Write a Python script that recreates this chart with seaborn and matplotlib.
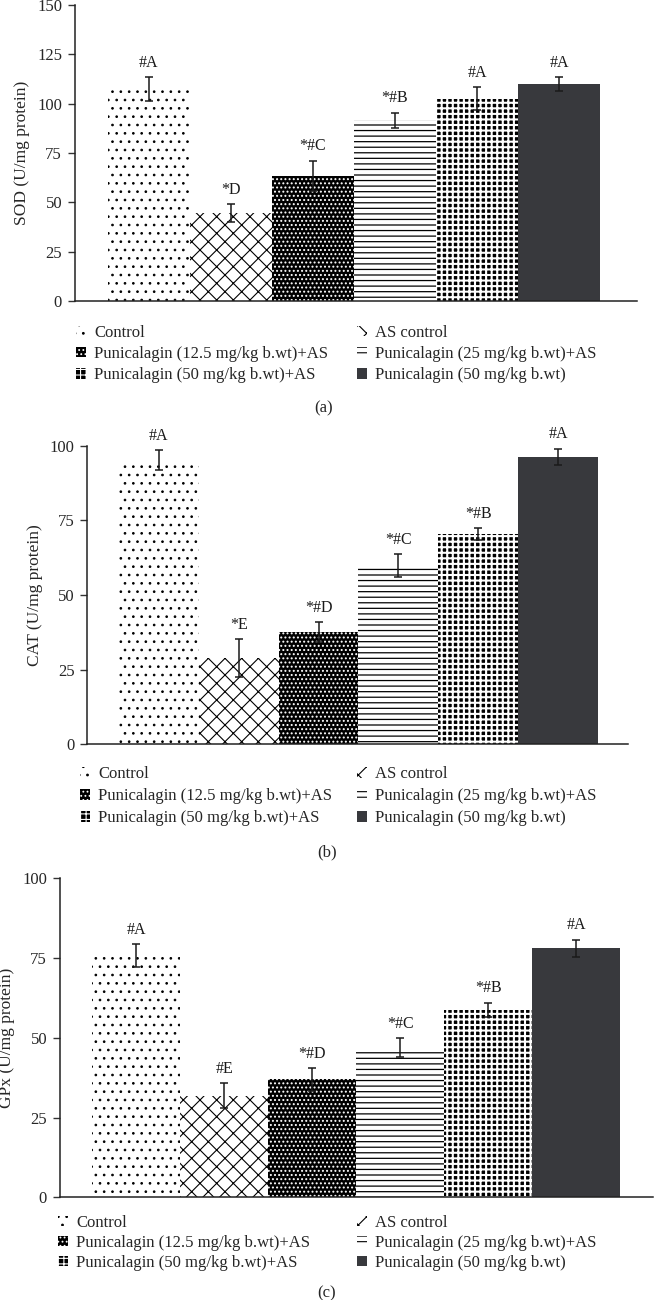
import numpy as np
import pandas as pd
import seaborn as sns
import matplotlib
matplotlib.use("Agg")
import matplotlib.pyplot as plt

# ---------------- data ----------------
groups = ["Control", "AS control",
          "Punicalagin (12.5 mg/kg b.wt)+AS", "Punicalagin (25 mg/kg b.wt)+AS",
          "Punicalagin (50 mg/kg b.wt)+AS", "Punicalagin (50 mg/kg b.wt)"]

sod_values = [107.4, 44.5, 63.5, 91.6, 102.5, 109.8]
sod_errors = [6.0, 4.6, 7.6, 3.8, 5.7, 3.5]
sod_labels = ["#A", "*D", "*#C", "*#B", "#A", "#A"]

cat_values = [95.2, 28.9, 37.5, 59.9, 70.3, 96.2]
cat_errors = [3.3, 6.2, 3.3, 3.8, 2.0, 2.8]
cat_labels = ["#A", "*E", "*#D", "*#C", "*#B", "#A"]

gpx_values = [75.8, 31.9, 37.0, 46.9, 58.7, 78.0]
gpx_errors = [3.5, 4.0, 3.6, 3.0, 2.3, 2.8]
gpx_labels = ["#A", "#E", "*#D", "*#C", "*#B", "#A"]

panel_tags = ["(a)", "(b)", "(c)"]

# ---------------- style ----------------
sns.set_style("white")
plt.rcParams["font.family"] = ["Liberation Serif", "DejaVu Serif"]
plt.rcParams["hatch.linewidth"] = 0.8

W, H = 654, 1300
fig = plt.figure(figsize=(W / 100, H / 100), dpi=100)

faces = ["white", "white", "black", "white", "black", "#38393d"]
hatch_cols = ["black", "black", "white", "black", "white", "#38393d"]
hatches = ["..", "xx", "....", "---", "+++", ""]
hatch_lw = [0.7, 0.8, 0.9, 0.9, 1.5, 0.5]


def px_axes(left, right, top, bottom):
    return [left / W, 1 - bottom / H, (right - left) / W, (bottom - top) / H]


def panel(rect, values, errors, labels, ylabel, ymax, xlim):
    ax = fig.add_axes(rect)
    df = pd.DataFrame({"group": groups, "value": values})
    sns.barplot(data=df, x="group", y="value", hue="group", order=groups,
                hue_order=groups, palette=dict(zip(groups, faces)),
                width=1.0, errorbar=None, legend=False, saturation=1,
                linewidth=0, ax=ax)
    bars = sorted(ax.patches, key=lambda p: p.get_x())
    for p, fc, hc, h, lw in zip(bars, faces, hatch_cols, hatches, hatch_lw):
        p.set_facecolor(fc)
        p.set_edgecolor(hc)
        p.set_linewidth(0)
        if h:
            p.set_hatch(h)
        if hasattr(p, "set_hatch_linewidth"):
            p.set_hatch_linewidth(lw)
    xs = np.arange(len(values))
    ax.errorbar(xs, values, yerr=errors, fmt="none", ecolor="#1a1a1a",
                elinewidth=1.1, capsize=3.2, capthick=1.1, zorder=5)
    for x, v, e, t in zip(xs, values, errors, labels):
        ax.annotate(t, (x, v + e), xytext=(0, 4.5), textcoords="offset points",
                    ha="center", va="bottom", fontsize=11.5, color="#1a1a1a")
    ax.set_xlim(*xlim)
    ax.set_ylim(0, ymax)
    ax.set_yticks(np.arange(0, ymax + 1, 25))
    ax.set_xticks([])
    ax.set_xlabel("")
    ax.set_ylabel(ylabel, fontsize=12.5, labelpad=5)
    ax.tick_params(axis="y", direction="out", length=5, width=1,
                   labelsize=12, pad=4, left=True, color="#333333")
    for s in ["top", "right"]:
        ax.spines[s].set_visible(False)
    for s in ["left", "bottom"]:
        ax.spines[s].set_color("#222222")
        ax.spines[s].set_linewidth(1.1)
    ax.set_facecolor("white")
    return ax, bars


def legend(bars, col1_x, col2_x, row2_y, spacing):
    order = [[0, 2, 4], [1, 3, 5]]
    for col, x in zip(order, [col1_x, col2_x]):
        fig.legend([bars[i] for i in col], [groups[i] for i in col],
                   loc="center left", bbox_to_anchor=(x / W, 1 - row2_y / H),
                   frameon=False, fontsize=12, handlelength=0.6,
                   handleheight=0.6, handletextpad=0.5, labelspacing=spacing,
                   borderpad=0, borderaxespad=0)


ax1, b1 = panel(px_axes(74.6, 637, 5, 301), sod_values, sod_errors, sod_labels,
                "SOD (U/mg protein)", 150, (-0.906, 5.95))
legend(b1, 76, 357, 354, 0.31)
fig.text(324 / W, 1 - 408 / H, panel_tags[0], ha="center", va="center", fontsize=12)

ax2, b2 = panel(px_axes(87, 628, 445.7, 744.3), cat_values, cat_errors, cat_labels,
                "CAT (U/mg protein)", 100, (-0.90, 5.876))
legend(b2, 80, 357, 796.5, 0.36)
fig.text(327 / W, 1 - 852 / H, panel_tags[1], ha="center", va="center", fontsize=12)

ax3, b3 = panel(px_axes(59.6, 653, 878.3, 1197.3), gpx_values, gpx_errors, gpx_labels,
                "GPx (U/mg protein)", 100, (-0.874, 5.875))
legend(b3, 58, 357, 1243, 0.24)
fig.text(327 / W, 1 - 1293 / H, panel_tags[2], ha="center", va="center", fontsize=12)

fig.savefig("out.png", dpi=100, facecolor="white")
